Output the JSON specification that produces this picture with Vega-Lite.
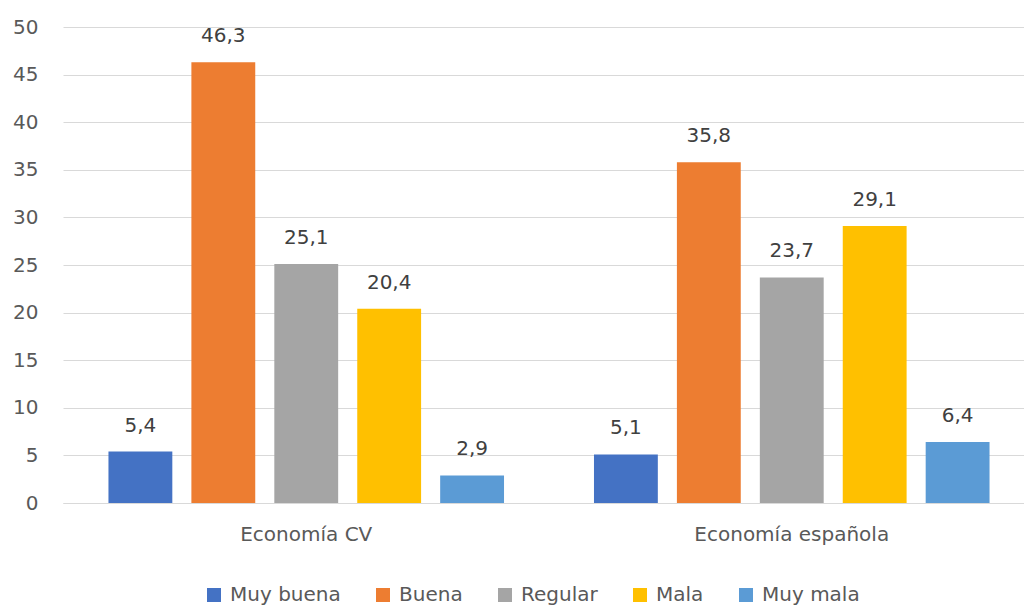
{
  "$schema": "https://vega.github.io/schema/vega-lite/v6.json",
  "autosize": "none",
  "width": 972,
  "height": 476,
  "padding": {"left": 63, "top": 27, "right": 0, "bottom": 105},
  "background": "white",
  "config": {"view": {"stroke": null}},
  "data": {
    "values": [
      {"grupo": "Economía CV", "cat": "Muy buena", "orden": 1, "valor": 5.4, "etiqueta": "5,4"},
      {"grupo": "Economía CV", "cat": "Buena", "orden": 2, "valor": 46.3, "etiqueta": "46,3"},
      {"grupo": "Economía CV", "cat": "Regular", "orden": 3, "valor": 25.1, "etiqueta": "25,1"},
      {"grupo": "Economía CV", "cat": "Mala", "orden": 4, "valor": 20.4, "etiqueta": "20,4"},
      {"grupo": "Economía CV", "cat": "Muy mala", "orden": 5, "valor": 2.9, "etiqueta": "2,9"},
      {"grupo": "Economía española", "cat": "Muy buena", "orden": 1, "valor": 5.1, "etiqueta": "5,1"},
      {"grupo": "Economía española", "cat": "Buena", "orden": 2, "valor": 35.8, "etiqueta": "35,8"},
      {"grupo": "Economía española", "cat": "Regular", "orden": 3, "valor": 23.7, "etiqueta": "23,7"},
      {"grupo": "Economía española", "cat": "Mala", "orden": 4, "valor": 29.1, "etiqueta": "29,1"},
      {"grupo": "Economía española", "cat": "Muy mala", "orden": 5, "valor": 6.4, "etiqueta": "6,4"}
    ]
  },
  "encoding": {
    "x": {
      "field": "grupo", "type": "nominal", "title": null,
      "scale": {"paddingInner": 0.146, "paddingOuter": 0.074},
      "axis": {"labelAngle": 0, "ticks": false, "domain": true, "domainColor": "#d9d9d9", "labelPadding": 21, "labelFontSize": 20, "labelLimit": 0, "labelColor": "#595959", "labelFont": "DejaVu Sans"}
    },
    "xOffset": {
      "field": "cat", "type": "nominal",
      "sort": ["Muy buena", "Buena", "Regular", "Mala", "Muy mala"],
      "scale": {"paddingInner": 0.23, "paddingOuter": 0.115}
    },
    "y": {
      "field": "valor", "type": "quantitative", "title": null,
      "scale": {"domain": [0, 50]},
      "axis": {"values": [0, 5, 10, 15, 20, 25, 30, 35, 40, 45, 50], "domain": false, "ticks": false, "labelPadding": 25, "labelFontSize": 20, "labelColor": "#595959", "labelFont": "DejaVu Sans", "gridColor": "#d9d9d9"}
    }
  },
  "layer": [
    {
      "mark": {"type": "bar"},
      "encoding": {
        "color": {
          "field": "cat", "type": "nominal",
          "sort": ["Muy buena", "Buena", "Regular", "Mala", "Muy mala"],
          "scale": {"domain": ["Muy buena", "Buena", "Regular", "Mala", "Muy mala"], "range": ["#4472C4", "#ED7D31", "#A5A5A5", "#FFC000", "#5B9BD5"]},
          "legend": {
            "title": null, "orient": "none", "direction": "horizontal",
            "legendX": 141, "legendY": 558,
            "symbolType": "square", "symbolSize": 196, "symbolStrokeWidth": 0,
            "labelFontSize": 20, "labelColor": "#595959", "labelFont": "DejaVu Sans",
            "columnPadding": 32, "labelOffset": 6
          }
        }
      }
    },
    {
      "mark": {"type": "text", "baseline": "alphabetic", "dy": -20, "fontSize": 20, "color": "#404040", "font": "DejaVu Sans"},
      "encoding": {
        "text": {"field": "etiqueta", "type": "nominal"}
      }
    }
  ]
}
